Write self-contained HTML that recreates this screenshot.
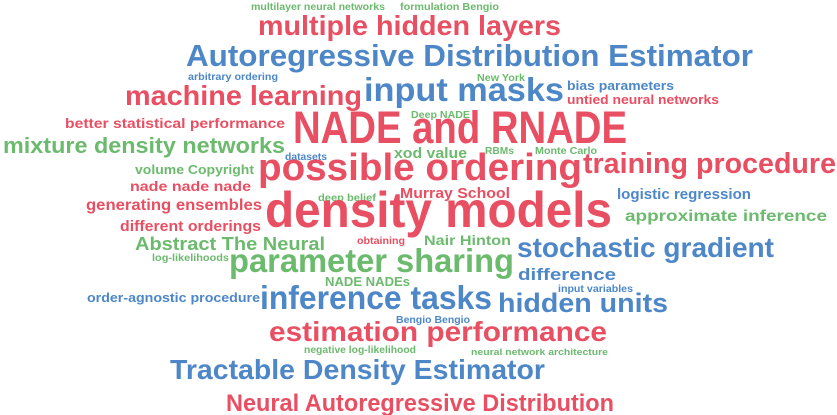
<!DOCTYPE html>
<html><head><meta charset="utf-8"><style>html,body{margin:0;padding:0;background:#fff;width:837px;height:415px;overflow:hidden}svg{display:block}text{font-family:"Liberation Sans","DejaVu Sans",sans-serif;font-weight:bold}.r{fill:#e84f62}.b{fill:#4d87c7}.g{fill:#6cba6e}</style></head><body>
<svg width="837" height="415" viewBox="0 0 837 415" xmlns="http://www.w3.org/2000/svg">
<text class="g" x="251" y="10" font-size="10" textLength="134" lengthAdjust="spacingAndGlyphs">multilayer neural networks</text>
<text class="g" x="400" y="10" font-size="10" textLength="99" lengthAdjust="spacingAndGlyphs">formulation Bengio</text>
<text class="r" x="258" y="35" font-size="28" textLength="303" lengthAdjust="spacingAndGlyphs">multiple hidden layers</text>
<text class="b" x="186" y="66" font-size="31" textLength="567" lengthAdjust="spacingAndGlyphs">Autoregressive Distribution Estimator</text>
<text class="b" x="188" y="80" font-size="10" textLength="90" lengthAdjust="spacingAndGlyphs">arbitrary ordering</text>
<text class="g" x="477" y="81" font-size="10" textLength="48" lengthAdjust="spacingAndGlyphs">New York</text>
<text class="b" x="567" y="90" font-size="13" textLength="107" lengthAdjust="spacingAndGlyphs">bias parameters</text>
<text class="r" x="567" y="104" font-size="13" textLength="152" lengthAdjust="spacingAndGlyphs">untied neural networks</text>
<text class="r" x="125" y="105" font-size="28" textLength="237" lengthAdjust="spacingAndGlyphs">machine learning</text>
<text class="b" x="364" y="101" font-size="33" textLength="200" lengthAdjust="spacingAndGlyphs">input masks</text>
<text class="r" x="65" y="128" font-size="14" textLength="220" lengthAdjust="spacingAndGlyphs">better statistical performance</text>
<text class="g" x="411" y="118" font-size="10" textLength="59" lengthAdjust="spacingAndGlyphs">Deep NADE</text>
<text class="r" x="293" y="143" font-size="45" textLength="334" lengthAdjust="spacingAndGlyphs">NADE and RNADE</text>
<text class="g" x="3" y="153" font-size="22" textLength="282" lengthAdjust="spacingAndGlyphs">mixture density networks</text>
<text class="b" x="285" y="160" font-size="10" textLength="42" lengthAdjust="spacingAndGlyphs">datasets</text>
<text class="g" x="394" y="158" font-size="15" textLength="73" lengthAdjust="spacingAndGlyphs">xod value</text>
<text class="g" x="485" y="154" font-size="10" textLength="29" lengthAdjust="spacingAndGlyphs">RBMs</text>
<text class="g" x="535" y="154" font-size="10" textLength="62" lengthAdjust="spacingAndGlyphs">Monte Carlo</text>
<text class="r" x="258" y="180" font-size="38" textLength="324" lengthAdjust="spacingAndGlyphs">possible ordering</text>
<text class="r" x="583" y="173" font-size="29" textLength="253" lengthAdjust="spacingAndGlyphs">training procedure</text>
<text class="g" x="135" y="174" font-size="13" textLength="119" lengthAdjust="spacingAndGlyphs">volume Copyright</text>
<text class="r" x="130" y="191" font-size="14" textLength="121" lengthAdjust="spacingAndGlyphs">nade nade nade</text>
<text class="g" x="318" y="201" font-size="10" textLength="58" lengthAdjust="spacingAndGlyphs">deep belief</text>
<text class="r" x="400" y="198" font-size="15" textLength="110" lengthAdjust="spacingAndGlyphs">Murray School</text>
<text class="b" x="617" y="199" font-size="15" textLength="134" lengthAdjust="spacingAndGlyphs">logistic regression</text>
<text class="r" x="86" y="210" font-size="16" textLength="176" lengthAdjust="spacingAndGlyphs">generating ensembles</text>
<text class="r" x="265" y="227" font-size="50" textLength="347" lengthAdjust="spacingAndGlyphs">density models</text>
<text class="g" x="625" y="221" font-size="16" textLength="202" lengthAdjust="spacingAndGlyphs">approximate inference</text>
<text class="r" x="120" y="231" font-size="15" textLength="141" lengthAdjust="spacingAndGlyphs">different orderings</text>
<text class="g" x="135" y="250" font-size="18" textLength="190" lengthAdjust="spacingAndGlyphs">Abstract The Neural</text>
<text class="r" x="357" y="244" font-size="10" textLength="48" lengthAdjust="spacingAndGlyphs">obtaining</text>
<text class="g" x="424" y="245" font-size="14" textLength="87" lengthAdjust="spacingAndGlyphs">Nair Hinton</text>
<text class="b" x="517" y="257" font-size="28" textLength="257" lengthAdjust="spacingAndGlyphs">stochastic gradient</text>
<text class="g" x="152" y="261" font-size="10" textLength="77" lengthAdjust="spacingAndGlyphs">log-likelihoods</text>
<text class="g" x="229" y="272" font-size="33" textLength="285" lengthAdjust="spacingAndGlyphs">parameter sharing</text>
<text class="b" x="518" y="280" font-size="17" textLength="98" lengthAdjust="spacingAndGlyphs">difference</text>
<text class="g" x="325" y="286" font-size="13" textLength="85" lengthAdjust="spacingAndGlyphs">NADE NADEs</text>
<text class="b" x="558" y="292" font-size="10" textLength="75" lengthAdjust="spacingAndGlyphs">input variables</text>
<text class="b" x="87" y="302" font-size="13" textLength="173" lengthAdjust="spacingAndGlyphs">order-agnostic procedure</text>
<text class="b" x="260" y="309" font-size="33" textLength="232" lengthAdjust="spacingAndGlyphs">inference tasks</text>
<text class="b" x="498" y="312" font-size="27" textLength="170" lengthAdjust="spacingAndGlyphs">hidden units</text>
<text class="b" x="396" y="323" font-size="10" textLength="74" lengthAdjust="spacingAndGlyphs">Bengio Bengio</text>
<text class="r" x="269" y="341" font-size="28" textLength="338" lengthAdjust="spacingAndGlyphs">estimation performance</text>
<text class="g" x="304" y="353" font-size="10" textLength="112" lengthAdjust="spacingAndGlyphs">negative log-likelihood</text>
<text class="g" x="471" y="355" font-size="9" textLength="137" lengthAdjust="spacingAndGlyphs">neural network architecture</text>
<text class="b" x="170" y="379" font-size="28" textLength="375" lengthAdjust="spacingAndGlyphs">Tractable Density Estimator</text>
<text class="r" x="226" y="411" font-size="24" textLength="388" lengthAdjust="spacingAndGlyphs">Neural Autoregressive Distribution</text>
</svg>
</body></html>
